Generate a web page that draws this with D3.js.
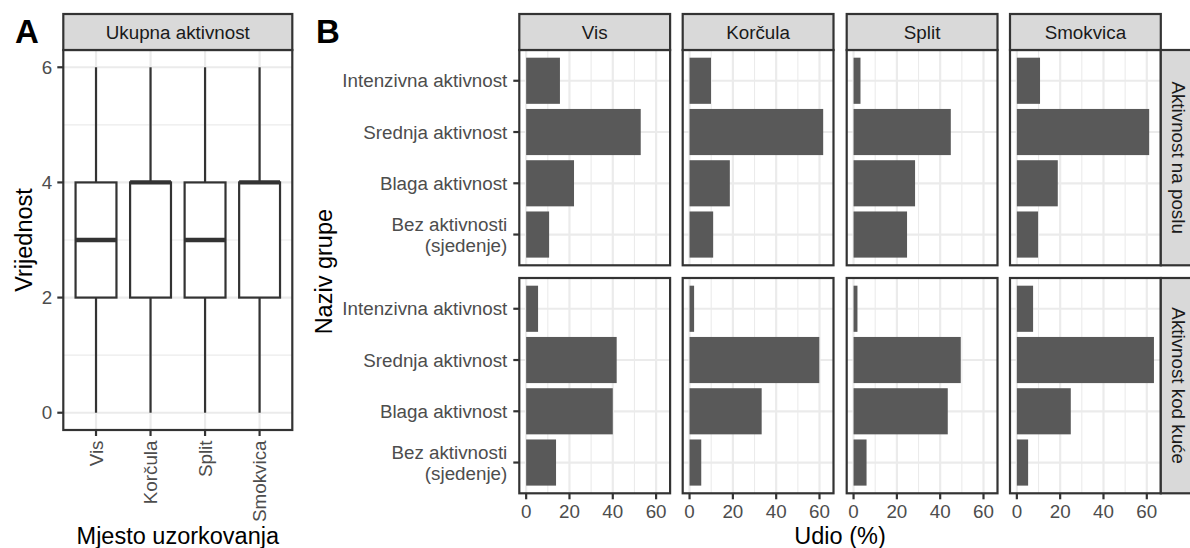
<!DOCTYPE html>
<html>
<head>
<meta charset="utf-8">
<script src="https://cdn.jsdelivr.net/npm/d3@7"></script>
<style>
  html, body { margin: 0; padding: 0; background: #fff; }
  svg { display: block; font-family: "Liberation Sans", Arial, Helvetica, sans-serif; }
</style>
</head>
<body>
<svg id="chart" width="1190" height="548"></svg>
<script>
// ---------------- DATA ----------------
const sites = ["Vis", "Korčula", "Split", "Smokvica"];
// Panel A: box plot summary of "Ukupna aktivnost"
const boxMin    = [0, 0, 0, 0];
const boxQ1     = [2, 2, 2, 2];
const boxMedian = [3, 4, 3, 4];
const boxQ3     = [4, 4, 4, 4];
const boxMax    = [6, 6, 6, 6];
const panelATicks = [0, 2, 4, 6];

// Panel B: activity groups (top to bottom)
const groups = ["Intenzivna aktivnost", "Srednja aktivnost", "Blaga aktivnost", "Bez aktivnosti\n(sjedenje)"];
const rowsB = ["Aktivnost na poslu", "Aktivnost kod kuće"];
// values (%) per site, in order of groups
const workVis      = [15.6, 52.9, 22.1, 10.6];
const workKorcula  = [9.9, 61.7, 18.6, 10.9];
const workSplit    = [3.2, 44.9, 28.4, 24.7];
const workSmokvica = [10.7, 61.1, 18.9, 9.8];
const homeVis      = [5.5, 41.8, 40.0, 13.8];
const homeKorcula  = [2.1, 59.9, 33.3, 5.4];
const homeSplit    = [1.8, 49.5, 43.5, 6.0];
const homeSmokvica = [7.5, 63.3, 24.9, 5.2];
const panelBTicks = [0, 20, 40, 60];

const valuesB = [
  [workVis, workKorcula, workSplit, workSmokvica],
  [homeVis, homeKorcula, homeSplit, homeSmokvica]
];

// ---------------- STYLE ----------------
const C = {
  border: "#333333", strip: "#d9d9d9", grid: "#ebebeb", bar: "#595959",
  axisText: "#4d4d4d", stripText: "#1a1a1a", title: "#000000"
};
const FS_SMALL = 18.8, FS_TITLE = 23.5, FS_TAG = 33;
const LW = 2.2, LW_MINOR = 1.1, TICK = 6;

const svg = d3.select("#chart");

function panelBg(g, x0, y0, w, h) {
  g.append("rect").attr("x", x0).attr("y", y0).attr("width", w).attr("height", h).attr("fill", "#fff");
}
function panelBorder(g, x0, y0, w, h) {
  g.append("rect").attr("x", x0).attr("y", y0).attr("width", w).attr("height", h)
    .attr("fill", "none").attr("stroke", C.border).attr("stroke-width", LW);
}
function topStrip(g, x0, y0, w, h, label) {
  g.append("rect").attr("x", x0).attr("y", y0).attr("width", w).attr("height", h)
    .attr("fill", C.strip).attr("stroke", C.border).attr("stroke-width", LW);
  g.append("text").attr("x", x0 + w / 2).attr("y", y0 + h / 2 + 6.5)
    .attr("text-anchor", "middle").attr("font-size", FS_SMALL).attr("fill", C.stripText).text(label);
}
function rightStrip(g, x0, y0, w, h, label) {
  g.append("rect").attr("x", x0).attr("y", y0).attr("width", w).attr("height", h)
    .attr("fill", C.strip).attr("stroke", C.border).attr("stroke-width", LW);
  g.append("text")
    .attr("transform", `translate(${x0 + w / 2 - 6.5},${y0 + h / 2}) rotate(90)`)
    .attr("text-anchor", "middle").attr("font-size", FS_SMALL).attr("fill", C.stripText).text(label);
}

// ================= PANEL A =================
(function () {
  const x0 = 63.3, x1 = 292.3, y0 = 50, y1 = 430;
  const g = svg.append("g");
  const x = d3.scaleLinear().domain([0.4, sites.length + 0.6]).range([x0, x1]);
  const yMax = d3.max(boxMax), yMin = d3.min(boxMin);
  const pad = (yMax - yMin) * 0.05;
  const y = d3.scaleLinear().domain([yMin - pad, yMax + pad]).range([y1, y0]);

  panelBg(g, x0, y0, x1 - x0, y1 - y0);
  const minor = [1, 3, 5];
  g.selectAll(".minA").data(minor).join("line")
    .attr("x1", x0).attr("x2", x1).attr("y1", d => y(d)).attr("y2", d => y(d))
    .attr("stroke", C.grid).attr("stroke-width", LW_MINOR);
  g.selectAll(".majAy").data(panelATicks).join("line")
    .attr("x1", x0).attr("x2", x1).attr("y1", d => y(d)).attr("y2", d => y(d))
    .attr("stroke", C.grid).attr("stroke-width", LW);
  g.selectAll(".majAx").data(sites).join("line")
    .attr("x1", (d, i) => x(i + 1)).attr("x2", (d, i) => x(i + 1)).attr("y1", y0).attr("y2", y1)
    .attr("stroke", C.grid).attr("stroke-width", LW);

  const bw = 0.75 * (x(2) - x(1));
  sites.forEach((s, i) => {
    const cx = x(i + 1);
    g.append("line").attr("x1", cx).attr("x2", cx).attr("y1", y(boxQ3[i])).attr("y2", y(boxMax[i]))
      .attr("stroke", C.border).attr("stroke-width", LW);
    g.append("line").attr("x1", cx).attr("x2", cx).attr("y1", y(boxQ1[i])).attr("y2", y(boxMin[i]))
      .attr("stroke", C.border).attr("stroke-width", LW);
    g.append("rect").attr("x", cx - bw / 2).attr("width", bw)
      .attr("y", y(boxQ3[i])).attr("height", y(boxQ1[i]) - y(boxQ3[i]))
      .attr("fill", "#fff").attr("stroke", C.border).attr("stroke-width", LW);
    g.append("line").attr("x1", cx - bw / 2).attr("x2", cx + bw / 2)
      .attr("y1", y(boxMedian[i])).attr("y2", y(boxMedian[i]))
      .attr("stroke", C.border).attr("stroke-width", LW * 2);
  });
  panelBorder(g, x0, y0, x1 - x0, y1 - y0);
  topStrip(g, x0, 14, x1 - x0, y0 - 14, "Ukupna aktivnost");

  const ya = g.append("g");
  panelATicks.forEach(t => {
    ya.append("line").attr("x1", x0 - TICK).attr("x2", x0).attr("y1", y(t)).attr("y2", y(t))
      .attr("stroke", C.border).attr("stroke-width", LW);
    ya.append("text").attr("x", x0 - TICK - 5).attr("y", y(t) + 6.7).attr("text-anchor", "end")
      .attr("font-size", FS_SMALL).attr("fill", C.axisText).text(t);
  });
  sites.forEach((s, i) => {
    const cx = x(i + 1);
    g.append("line").attr("x1", cx).attr("x2", cx).attr("y1", y1).attr("y2", y1 + TICK)
      .attr("stroke", C.border).attr("stroke-width", LW);
    g.append("text").attr("transform", `translate(${cx + 6.7},${y1 + TICK + 4.5}) rotate(-90)`)
      .attr("text-anchor", "end").attr("font-size", FS_SMALL).attr("fill", C.axisText).text(s);
  });
  g.append("text").attr("transform", `translate(32,${(y0 + y1) / 2}) rotate(-90)`)
    .attr("text-anchor", "middle").attr("font-size", FS_TITLE).attr("fill", C.title).text("Vrijednost");
  g.append("text").attr("x", (x0 + x1) / 2).attr("y", 543.5)
    .attr("text-anchor", "middle").attr("font-size", FS_TITLE).attr("fill", C.title).text("Mjesto uzorkovanja");
  svg.append("text").attr("x", 15).attr("y", 43).attr("font-size", FS_TAG).attr("font-weight", "bold")
    .attr("fill", "#000").text("A");
})();

// ================= PANEL B =================
(function () {
  const colX = [519.3, 682.7, 846.7, 1010];
  const pw = 150.8;
  const rowY = [50, 278];
  const ph = 215.3;
  const g = svg.append("g");

  const maxV = d3.max(valuesB.flat(2));
  const pad = maxV * 0.05;

  rowsB.forEach((rowLabel, r) => {
    const py0 = rowY[r];
    const y = d3.scaleLinear().domain([0.4, groups.length + 0.6]).range([py0 + ph, py0]);
    const yPos = i => y(groups.length - i);
    sites.forEach((site, c) => {
      const px0 = colX[c];
      const x = d3.scaleLinear().domain([-pad, maxV + pad]).range([px0, px0 + pw]);
      panelBg(g, px0, py0, pw, ph);
      const minor = [10, 30, 50];
      g.selectAll(null).data(minor).join("line")
        .attr("x1", d => x(d)).attr("x2", d => x(d)).attr("y1", py0).attr("y2", py0 + ph)
        .attr("stroke", C.grid).attr("stroke-width", LW_MINOR);
      g.selectAll(null).data(panelBTicks).join("line")
        .attr("x1", d => x(d)).attr("x2", d => x(d)).attr("y1", py0).attr("y2", py0 + ph)
        .attr("stroke", C.grid).attr("stroke-width", LW);
      g.selectAll(null).data(groups).join("line")
        .attr("x1", px0).attr("x2", px0 + pw).attr("y1", (d, i) => yPos(i)).attr("y2", (d, i) => yPos(i))
        .attr("stroke", C.grid).attr("stroke-width", LW);
      const bh = 0.9 * (y(1) - y(2));
      g.selectAll(null).data(valuesB[r][c]).join("rect")
        .attr("x", x(0)).attr("width", d => x(d) - x(0))
        .attr("y", (d, i) => yPos(i) - bh / 2).attr("height", bh)
        .attr("fill", C.bar);
      panelBorder(g, px0, py0, pw, ph);

      if (r === 0) topStrip(g, px0, 14, pw, 36, site);
      if (r === rowsB.length - 1) {
        panelBTicks.forEach(t => {
          g.append("line").attr("x1", x(t)).attr("x2", x(t)).attr("y1", py0 + ph).attr("y2", py0 + ph + TICK)
            .attr("stroke", C.border).attr("stroke-width", LW);
          g.append("text").attr("x", x(t)).attr("y", py0 + ph + TICK + 19)
            .attr("text-anchor", "middle").attr("font-size", FS_SMALL).attr("fill", C.axisText).text(t);
        });
      }
      if (c === 0) {
        groups.forEach((lab, i) => {
          const ty = yPos(i);
          g.append("line").attr("x1", px0 - TICK).attr("x2", px0).attr("y1", ty).attr("y2", ty)
            .attr("stroke", C.border).attr("stroke-width", LW);
          const lines = lab.split("\n");
          const L = 21;
          const t = g.append("text").attr("text-anchor", "end").attr("font-size", FS_SMALL).attr("fill", C.axisText);
          lines.forEach((ln, k) => {
            t.append("tspan").attr("x", px0 - TICK - 6)
              .attr("y", ty + 6.7 + (k - (lines.length - 1) / 2) * L).text(ln);
          });
        });
      }
      if (c === sites.length - 1) {
        rightStrip(g, px0 + pw, py0, 36, ph, rowLabel);
      }
    });
  });

  g.append("text").attr("transform", `translate(331.5,${(rowY[0] + rowY[1] + ph) / 2}) rotate(-90)`)
    .attr("text-anchor", "middle").attr("font-size", FS_TITLE).attr("fill", C.title).text("Naziv grupe");
  g.append("text").attr("x", (colX[0] + colX[3] + pw) / 2).attr("y", 543.5)
    .attr("text-anchor", "middle").attr("font-size", FS_TITLE).attr("fill", C.title).text("Udio (%)");
  svg.append("text").attr("x", 316).attr("y", 43).attr("font-size", FS_TAG).attr("font-weight", "bold")
    .attr("fill", "#000").text("B");
})();
</script>
</body>
</html>
